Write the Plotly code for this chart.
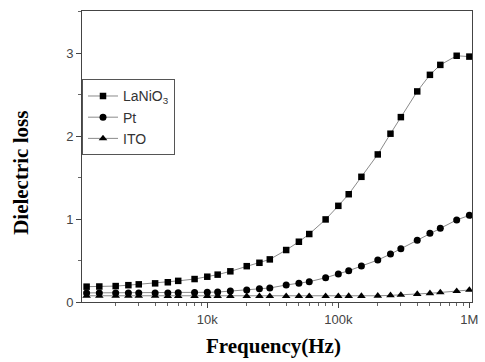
import plotly.graph_objects as go

freq = [1.2e3, 1.5e3, 2e3, 2.5e3, 3e3, 4e3, 5e3, 6e3, 8e3, 1e4,
        1.2e4, 1.5e4, 2e4, 2.5e4, 3e4, 4e4, 5e4, 6e4, 8e4, 1e5,
        1.2e5, 1.5e5, 2e5, 2.5e5, 3e5, 4e5, 5e5, 6e5, 8e5, 1e6]

lanio3 = [0.185, 0.187, 0.192, 0.203, 0.213, 0.225, 0.238, 0.255, 0.277, 0.305,
          0.330, 0.370, 0.432, 0.473, 0.514, 0.627, 0.727, 0.820, 0.996, 1.16,
          1.30, 1.51, 1.78, 2.03, 2.23, 2.54, 2.74, 2.86, 2.97, 2.96]

pt = [0.110, 0.110, 0.110, 0.110, 0.110, 0.110, 0.110, 0.112, 0.114, 0.117,
      0.120, 0.133, 0.145, 0.160, 0.169, 0.205, 0.225, 0.245, 0.293, 0.337,
      0.377, 0.434, 0.506, 0.578, 0.643, 0.745, 0.830, 0.890, 0.990, 1.045]

ito = [0.075, 0.075, 0.074, 0.074, 0.073, 0.073, 0.072, 0.072, 0.072, 0.071,
       0.071, 0.071, 0.070, 0.070, 0.070, 0.070, 0.070, 0.070, 0.070, 0.070,
       0.071, 0.072, 0.075, 0.080, 0.085, 0.095, 0.105, 0.115, 0.130, 0.145]

series = [("LaNiO<sub>3</sub>", lanio3, "square", 6.5),
          ("Pt", pt, "circle", 7),
          ("ITO", ito, "triangle-up", 7.5)]

x_major = [1e4, 1e5, 1e6]
x_major_text = ["10k", "100k", "1M"]
x_minor = [m * 10 ** e for e in (3, 4, 5) for m in range(2, 10)]

fig = go.Figure()
for name, vals, sym, sz in series:
    fig.add_trace(go.Scatter(
        x=freq, y=vals, name=name, mode="lines+markers",
        line=dict(color="#8a8a8a", width=1),
        marker=dict(symbol=sym, size=sz, color="black", line=dict(width=0)),
    ))

axis_font = dict(family="Liberation Sans, Arial, sans-serif", size=13, color="#444")
title_font = dict(family="Liberation Serif, Times New Roman, serif", size=21, color="black", weight="bold")

fig.update_layout(
    width=485, height=362,
    margin=dict(l=82, r=7, t=11, b=60),
    paper_bgcolor="white", plot_bgcolor="white",
    showlegend=True,
    legend=dict(x=0, y=0.765, xanchor="left", yanchor="top",
                bordercolor="#555", borderwidth=1, bgcolor="white",
                font=dict(family="Liberation Sans, Arial, sans-serif", size=14, color="#333"),
                tracegroupgap=0, itemwidth=30),
    xaxis=dict(type="log", range=[3.044, 6.02],
               tickvals=x_major, ticktext=x_major_text,
               ticks="outside", ticklen=5, tickcolor="#444",
               showline=True, linecolor="#444", linewidth=1, mirror=True,
               showgrid=False, zeroline=False, tickfont=axis_font,
               minor=dict(tickvals=x_minor, ticks="outside", ticklen=3, tickcolor="#666", showgrid=False)),
    yaxis=dict(range=[0, 3.51], tickvals=[0, 1, 2, 3],
               ticks="outside", ticklen=5, tickcolor="#444",
               showline=True, linecolor="#444", linewidth=1, mirror=True,
               showgrid=False, zeroline=False, tickfont=axis_font,
               minor=dict(dtick=0.5, ticks="outside", ticklen=3, tickcolor="#666", showgrid=False)),
    annotations=[
        dict(text="Frequency(Hz)", xref="paper", yref="paper", x=0.49, y=-0.2,
             xanchor="center", yanchor="bottom", showarrow=False, font=title_font),
        dict(text="Dielectric loss", xref="paper", yref="paper", x=-0.157, y=0.443,
             xanchor="center", yanchor="middle", textangle=-90, showarrow=False, font=title_font),
    ],
)

fig.write_html("out.html")
